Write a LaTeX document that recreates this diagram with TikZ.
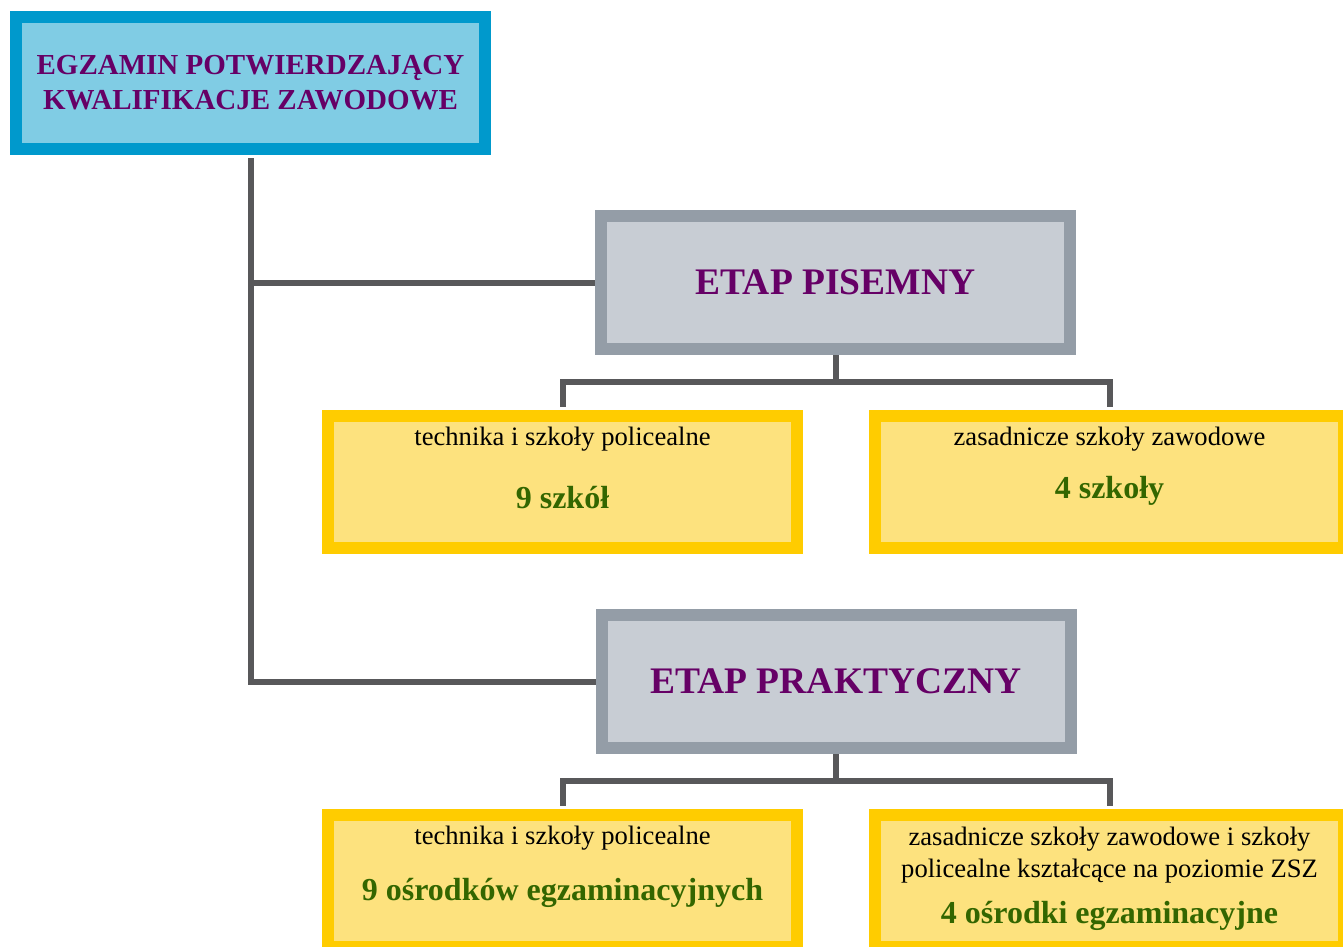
\documentclass[tikz,border=0pt]{standalone}
\usepackage{fontspec}
\setmainfont{Liberation Serif}
\usepackage{tikz}

\definecolor{niebieski}{HTML}{0099CC}
\definecolor{niebieskijasny}{HTML}{80CCE4}
\definecolor{szary}{HTML}{949DA7}
\definecolor{szaryjasny}{HTML}{C8CDD4}
\definecolor{zolty}{HTML}{FFCC00}
\definecolor{zoltyjasny}{HTML}{FDE27E}
\definecolor{fiolet}{HTML}{660066}
\definecolor{zielony}{HTML}{336600}
\definecolor{linia}{HTML}{58585A}

\begin{document}
\begin{tikzpicture}[x=1pt,y=-1pt,
		ramka/.style={draw, line width=12pt, minimum width=469pt, minimum height=132pt, inner sep=0pt},
		glowny/.style={ramka, draw=niebieski, fill=niebieskijasny, text=fiolet, align=center, font=\fontsize{29}{35}\selectfont\bfseries},
		etap/.style={ramka, minimum height=133pt, draw=szary, fill=szaryjasny, text=fiolet, font=\fontsize{37.5}{44}\selectfont\bfseries},
		szkoly/.style={ramka, draw=zolty, fill=zoltyjasny},
		opis/.style={anchor=base, inner sep=0pt, font=\fontsize{26.6}{32}\selectfont},
		liczba/.style={anchor=base, inner sep=0pt, text=zielony, font=\fontsize{32}{38}\selectfont\bfseries},
		laczenie/.style={draw=linia, line width=6pt}]
		\useasboundingbox (0,0) rectangle (1343,947);

		\node[glowny] (egzamin) at (250.5,83) {EGZAMIN POTWIERDZAJĄCY\\KWALIFIKACJE ZAWODOWE};
		\node[etap] (pisemny) at (835.5,282.5) {ETAP PISEMNY};
		\node[etap] (praktyczny) at (836,681.5) {ETAP PRAKTYCZNY};

		\node[szkoly] (pis-tech) at (562.5,482) {};
		\node[szkoly] (pis-zsz) at (1109.5,482) {};
		\node[szkoly] (prak-tech) at (562.5,881) {};
		\node[szkoly] (prak-zsz) at (1109.5,881) {};

		\node[opis] (pis-tech-t) at (562.5,445.7) {technika i szkoły policealne};
		\node[liczba] (pis-tech-n) at (562.5,508) {9 szkół};
		\node[opis] (pis-zsz-t) at (1109.5,445.7) {zasadnicze szkoły zawodowe};
		\node[liczba] (pis-zsz-n) at (1109.5,498) {4 szkoły};
		\node[opis] (prak-tech-t) at (562.5,844) {technika i szkoły policealne};
		\node[liczba] (prak-tech-n) at (562.5,900) {9 ośrodków egzaminacyjnych};
		\node[opis, align=center] (prak-zsz-t) at (1109.5,877) {zasadnicze szkoły zawodowe i szkoły\\policealne kształcące na poziomie ZSZ};
		\node[liczba] (prak-zsz-n) at (1109.5,923) {4 ośrodki egzaminacyjne};

		% polaczenia
		\draw[laczenie] ([yshift=-3pt]egzamin.south) |- (pisemny.west);
		\draw[laczenie] ([yshift=-3pt]egzamin.south) |- (praktyczny.west);
		\draw[laczenie] (pisemny.south) -- ++(0,27) coordinate (pis-bar) -| ([yshift=3pt]pis-tech.north);
		\draw[laczenie] (pis-bar) -| ([yshift=3pt]pis-zsz.north);
		\draw[laczenie] (praktyczny.south) -- ++(0,27) coordinate (prak-bar) -| ([yshift=3pt]prak-tech.north);
		\draw[laczenie] (prak-bar) -| ([yshift=3pt]prak-zsz.north);
	\end{tikzpicture}
\end{document}
